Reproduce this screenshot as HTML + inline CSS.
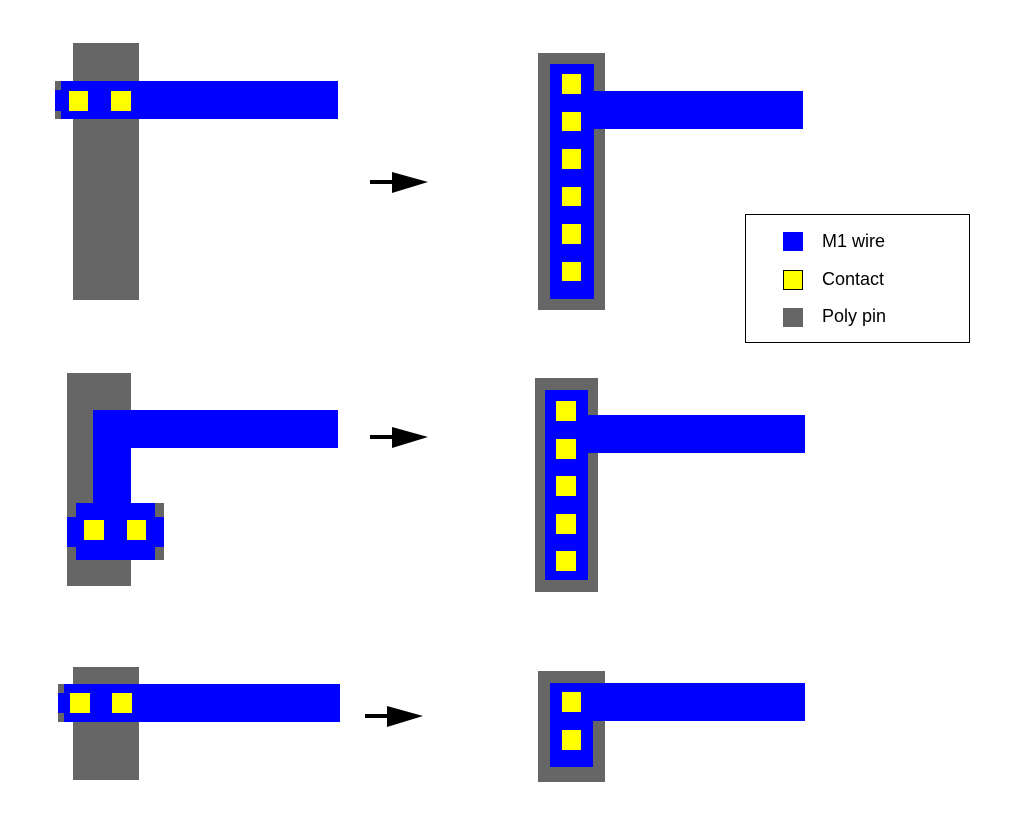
<!DOCTYPE html>
<html><head><style>body{margin:0;background:#fff}svg{display:block}</style></head><body>
<svg width="1013" height="819" xmlns="http://www.w3.org/2000/svg">
<g fill="#666">
<rect x="73" y="43" width="66" height="257"/>
<rect x="55" y="81" width="6" height="38"/>
<rect x="538" y="53" width="67" height="257"/>
<rect x="67" y="373" width="64" height="213"/>
<rect x="155" y="503" width="9" height="57"/>
<rect x="535" y="378" width="63" height="214"/>
<rect x="73" y="667" width="66" height="113"/>
<rect x="58" y="684" width="6" height="38"/>
<rect x="538" y="671" width="67" height="111"/>
</g>
<g fill="#00f">
<rect x="61" y="81" width="277" height="38"/>
<rect x="55" y="90" width="8" height="21"/>
<rect x="550" y="64" width="44" height="235"/>
<rect x="594" y="91" width="209" height="38"/>
<rect x="93" y="410" width="38" height="95"/>
<rect x="93" y="410" width="245" height="38"/>
<rect x="76" y="503" width="79" height="57"/>
<rect x="67" y="517" width="97" height="30"/>
<rect x="545" y="390" width="43" height="190"/>
<rect x="588" y="415" width="217" height="38"/>
<rect x="64" y="684" width="276" height="38"/>
<rect x="58" y="693" width="8" height="20"/>
<rect x="550" y="683" width="43" height="84"/>
<rect x="593" y="683" width="212" height="38"/>
</g>
<g fill="#ff0">
<rect x="69" y="91" width="19" height="20"/><rect x="111" y="91" width="20" height="20"/>
<rect x="562" y="74" width="19" height="20"/><rect x="562" y="112" width="19" height="19"/>
<rect x="562" y="149" width="19" height="20"/><rect x="562" y="187" width="19" height="19"/>
<rect x="562" y="224" width="19" height="20"/><rect x="562" y="262" width="19" height="19"/>
<rect x="84" y="520" width="20" height="20"/><rect x="127" y="520" width="19" height="20"/>
<rect x="556" y="401" width="20" height="20"/><rect x="556" y="439" width="20" height="20"/>
<rect x="556" y="476" width="20" height="20"/><rect x="556" y="514" width="20" height="20"/>
<rect x="556" y="551" width="20" height="20"/>
<rect x="70" y="693" width="20" height="20"/><rect x="112" y="693" width="20" height="20"/>
<rect x="562" y="692" width="19" height="20"/><rect x="562" y="730" width="19" height="20"/>
</g>
<g fill="#000">
<rect x="370" y="180" width="24" height="4"/><polygon points="392,172 428,182 392,193"/>
<rect x="370" y="435" width="24" height="4"/><polygon points="392,427 428,437 392,448"/>
<rect x="365" y="714" width="24" height="4"/><polygon points="387,706 423,716 387,727"/>
</g>
<rect x="745.5" y="214.5" width="224" height="128" fill="#fff" stroke="#000" stroke-width="1"/>
<rect x="783" y="232" width="20" height="19" fill="#00f"/>
<rect x="783.5" y="270.5" width="19" height="19" fill="#ff0" stroke="#000"/>
<rect x="783" y="308" width="20" height="19" fill="#666"/>
<g font-family="Liberation Sans, sans-serif" font-size="18" fill="#000">
<text x="822" y="247">M1 wire</text>
<text x="822" y="285">Contact</text>
<text x="822" y="322">Poly pin</text>
</g>
</svg>
</body></html>
